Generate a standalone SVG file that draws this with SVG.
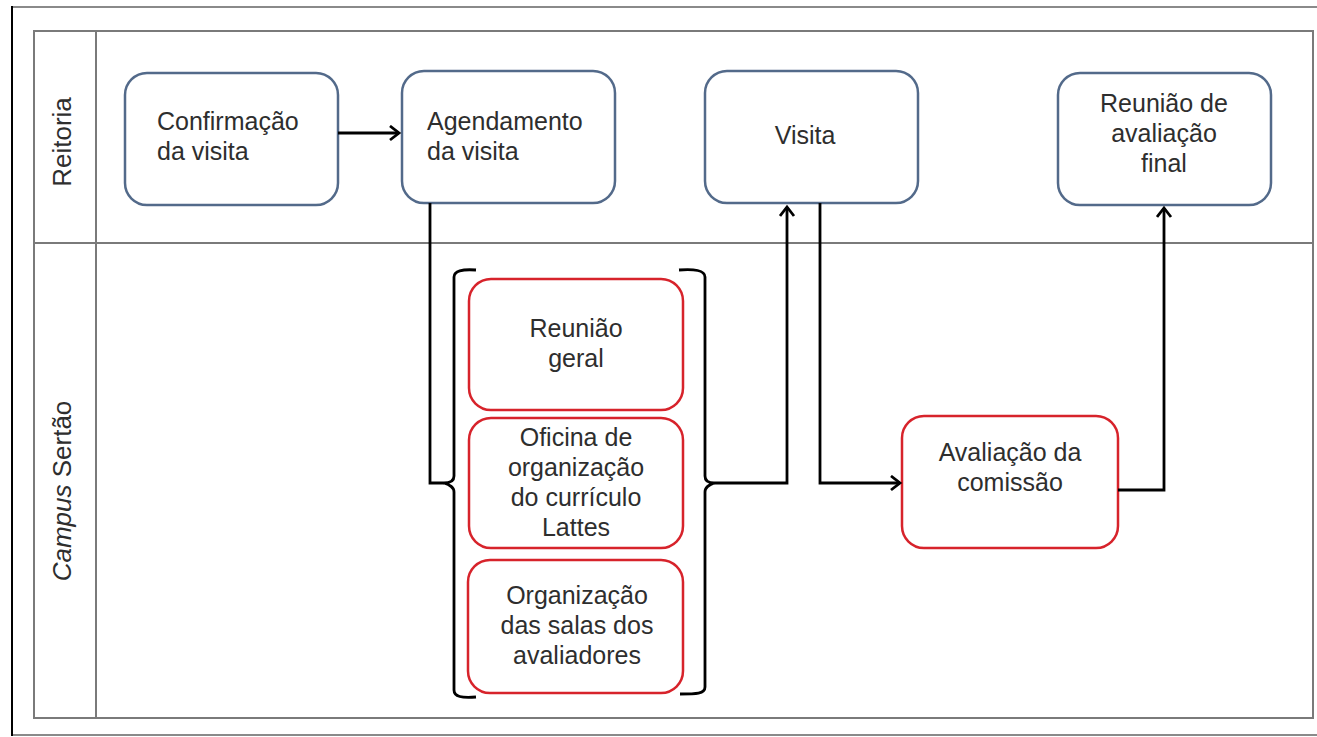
<svg xmlns="http://www.w3.org/2000/svg" width="1317" height="737" viewBox="0 0 1317 737">
<style>
.t{font-family:"Liberation Sans",Arial,sans-serif;font-size:25px;fill:#2e2e2e}
.c{text-anchor:middle}
.blue{fill:#fff;stroke:#536a8a;stroke-width:2.5}
.red{fill:#fff;stroke:#d7232b;stroke-width:2.5}
.lane{fill:none;stroke:#7a7a7a;stroke-width:2}
.con{fill:none;stroke:#000;stroke-width:2.8}
</style>
<defs>
<marker id="ah" markerUnits="userSpaceOnUse" markerWidth="20" markerHeight="20" refX="11" refY="8" orient="auto">
<path d="M2,1 L11,8 L2,15" fill="none" stroke="#000" stroke-width="2.8"/>
</marker>
</defs>
<rect width="1317" height="737" fill="#fff"/>
<g id="frame">
<line x1="12" y1="7" x2="1317" y2="7" stroke="#8a8a8a" stroke-width="2"/>
<line x1="12" y1="735" x2="1317" y2="735" stroke="#8a8a8a" stroke-width="2"/>
<line x1="12" y1="6" x2="12" y2="736" stroke="#000" stroke-width="2"/>
<rect class="lane" x="34" y="31" width="1279" height="687"/>
<line class="lane" x1="96" y1="31" x2="96" y2="718"/>
<line class="lane" x1="34" y1="243" x2="1313" y2="243"/>
</g>
<g id="lane-reitoria">
<text class="t c" transform="translate(71,142) rotate(-90)" style="font-size:26px">Reitoria</text>
</g>
<g id="lane-campus">
<text class="t c" transform="translate(71,491) rotate(-90)" style="font-size:26px"><tspan font-style="italic">Campus</tspan> Sertão</text>
</g>
<g id="n-confirmacao">
<rect class="blue" x="125" y="73" width="213" height="132" rx="22"/>
<text class="t" x="157" y="130">Confirmação</text>
<text class="t" x="157" y="160">da visita</text>
</g>
<g id="n-agendamento">
<rect class="blue" x="402" y="71" width="213" height="132" rx="22"/>
<text class="t" x="427" y="130">Agendamento</text>
<text class="t" x="427" y="160">da visita</text>
</g>
<g id="n-visita">
<rect class="blue" x="705" y="71" width="213" height="132" rx="22"/>
<text class="t c" x="805" y="144">Visita</text>
</g>
<g id="n-reuniao-final">
<rect class="blue" x="1058" y="73" width="213" height="132" rx="22"/>
<text class="t c" x="1164" y="112">Reunião de</text>
<text class="t c" x="1164" y="142">avaliação</text>
<text class="t c" x="1164" y="172">final</text>
</g>
<g id="n-reuniao-geral">
<rect class="red" x="469" y="279" width="214" height="131" rx="22"/>
<text class="t c" x="576" y="337">Reunião</text>
<text class="t c" x="576" y="367">geral</text>
</g>
<g id="n-oficina">
<rect class="red" x="469" y="418" width="214" height="130" rx="22"/>
<text class="t c" x="576" y="446">Oficina de</text>
<text class="t c" x="576" y="476">organização</text>
<text class="t c" x="576" y="506">do currículo</text>
<text class="t c" x="576" y="536">Lattes</text>
</g>
<g id="n-organizacao">
<rect class="red" x="468" y="560" width="215" height="133" rx="22"/>
<text class="t c" x="577" y="604">Organização</text>
<text class="t c" x="577" y="634">das salas dos</text>
<text class="t c" x="577" y="664">avaliadores</text>
</g>
<g id="n-avaliacao">
<rect class="red" x="902" y="416" width="216" height="132" rx="22"/>
<text class="t c" x="1010" y="461">Avaliação da</text>
<text class="t c" x="1010" y="491">comissão</text>
</g>
<g id="connectors">
<path class="con" d="M476,270 C462,269 454,271 454,277 L454,476 C454,481 450,483 444,483 C450,485 454,487 454,492 L454,690 C454,697 462,698 476,697"/>
<path class="con" d="M679,270 C694,269 705,270 705,277 L705,476 C705,481 709,483 714,483 C709,485 705,487 705,492 L705,687 C705,694 696,694 680,694"/>
<line class="con" x1="338" y1="133" x2="399" y2="133" marker-end="url(#ah)"/>
<polyline class="con" points="430,203 430,483 444,483"/>
<polyline class="con" points="714,483 787,483 787,207" marker-end="url(#ah)"/>
<polyline class="con" points="820,203 820,483 900,483" marker-end="url(#ah)"/>
<polyline class="con" points="1118,490 1164,490 1164,208" marker-end="url(#ah)"/>
</g>
</svg>
